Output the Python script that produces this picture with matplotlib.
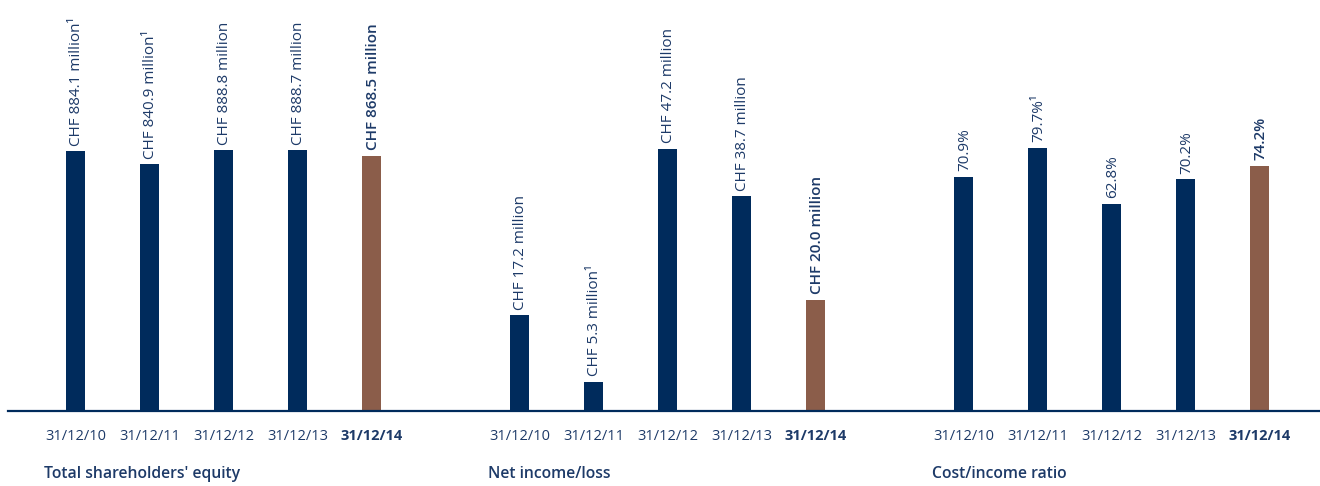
import matplotlib.pyplot as plt
from matplotlib.lines import Line2D

dates = ['31/12/10', '31/12/11', '31/12/12', '31/12/13', '31/12/14']
equity = [884.1, 840.9, 888.8, 888.7, 868.5]
income = [17.2, 5.3, 47.2, 38.7, 20.0]
ratio = [70.9, 79.7, 62.8, 70.2, 74.2]
equity_labels = ['CHF 884.1 million¹', 'CHF 840.9 million¹', 'CHF 888.8 million',
                 'CHF 888.7 million', 'CHF 868.5 million']
income_labels = ['CHF 17.2 million', 'CHF 5.3 million¹', 'CHF 47.2 million',
                 'CHF 38.7 million', 'CHF 20.0 million']
ratio_labels = ['70.9%', '79.7%¹', '62.8%', '70.2%', '74.2%']
titles = ["Total shareholders' equity", 'Net income/loss', 'Cost/income ratio']

plt.rcParams['font.family'] = ['Open Sans', 'DejaVu Sans']

navy = '#002b5c'
brown = '#8b5d4a'
txt = '#1d3a68'

W, H = 1320, 486
fig = plt.figure(figsize=(W / 100, H / 100), dpi=100)

base = 411          # baseline, px from top
step = 74           # px between bars
first = 67.5        # px from panel left to first bar centre
panels = [(8, 444), (452, 444), (896, 424)]
ytops = [1400, 74, 124.5]
data = [equity, income, ratio]
labels = [equity_labels, income_labels, ratio_labels]

x = list(range(len(dates)))
for (left, width), ytop, vals, labs, title in zip(panels, ytops, data, labels, titles):
    ax = fig.add_axes([left / W, (H - base) / H, width / W, base / H])
    ax.set_xlim(-first / step, (width - first) / step)
    ax.set_ylim(0, ytop)
    cols = [navy] * 4 + [brown]
    bars = ax.bar(x, vals, width=19 / step, color=cols)
    for i, (b, lab) in enumerate(zip(bars, labs)):
        ax.annotate(lab, (b.get_x() + b.get_width() / 2, b.get_height()),
                    xytext=(1, 4), textcoords='offset points', rotation=90,
                    ha='center', va='bottom', fontsize=11, color=txt,
                    fontweight='semibold' if i == 4 else 'normal', annotation_clip=False)
        ax.text(i, -25 / base, dates[i], transform=ax.get_xaxis_transform(),
                ha='center', va='center', fontsize=10.5, color=txt,
                fontweight='bold' if i == 4 else 'normal')
    ax.text(-31.5 / step, -63 / base, title, transform=ax.get_xaxis_transform(),
            ha='left', va='center', fontsize=11.3, color=txt, fontweight='semibold')
    ax.axis('off')

# one baseline across all three panels
y0 = (H - base) / H
fig.add_artist(Line2D([8 / W, 1], [y0, y0], color=navy, lw=1.6))

fig.savefig('out.png', dpi=100)
